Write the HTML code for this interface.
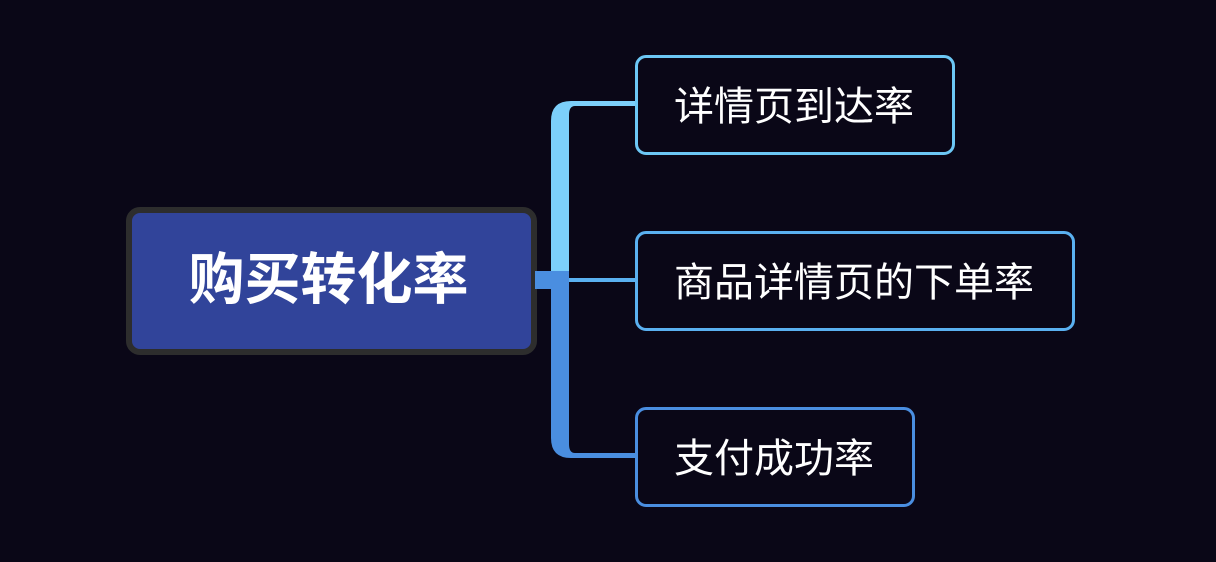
<html><head><style>
body{margin:0;width:1216px;height:562px;background:#0a0717;position:relative;overflow:hidden;font-family:"Liberation Sans","Noto Sans CJK SC",sans-serif}
.b{position:absolute;box-sizing:border-box;background:#0a0717;border:3px solid;border-radius:11px;color:#fff;font-size:40px;line-height:98px;padding-left:36px;white-space:nowrap}
</style></head><body>
<div style="position:absolute;left:126px;top:207px;width:411px;height:148px;box-sizing:border-box;background:#31449a;border:6px solid #2d2d2d;border-radius:14px;color:#fff;font-size:56px;font-weight:bold;text-align:center;line-height:134px;padding-right:6px">购买转化率</div>
<svg width="1216" height="562" style="position:absolute;left:0;top:0">
<rect x="535" y="271" width="20" height="18" fill="#4a8ee0"/>
<path d="M551 280 V121 Q551 101 571 101 H637 V106 H575 Q569 106 569 115 V280 Z" fill="#7ccffa"/>
<path d="M551 271 V438 Q551 458 571 458 H637 V453 H575 Q569 453 569 444 V271 Z" fill="#4a8ee0"/>
<rect x="569" y="278" width="68" height="4" fill="#5ab0f0"/>
</svg>
<div class="b" style="left:635px;top:55px;width:320px;height:100px;border-color:#6cc7f5">详情页到达率</div>
<div class="b" style="left:635px;top:231px;width:440px;height:100px;border-color:#5ab0f0">商品详情页的下单率</div>
<div class="b" style="left:635px;top:407px;width:280px;height:100px;border-color:#4a8ee0">支付成功率</div>
</body></html>
